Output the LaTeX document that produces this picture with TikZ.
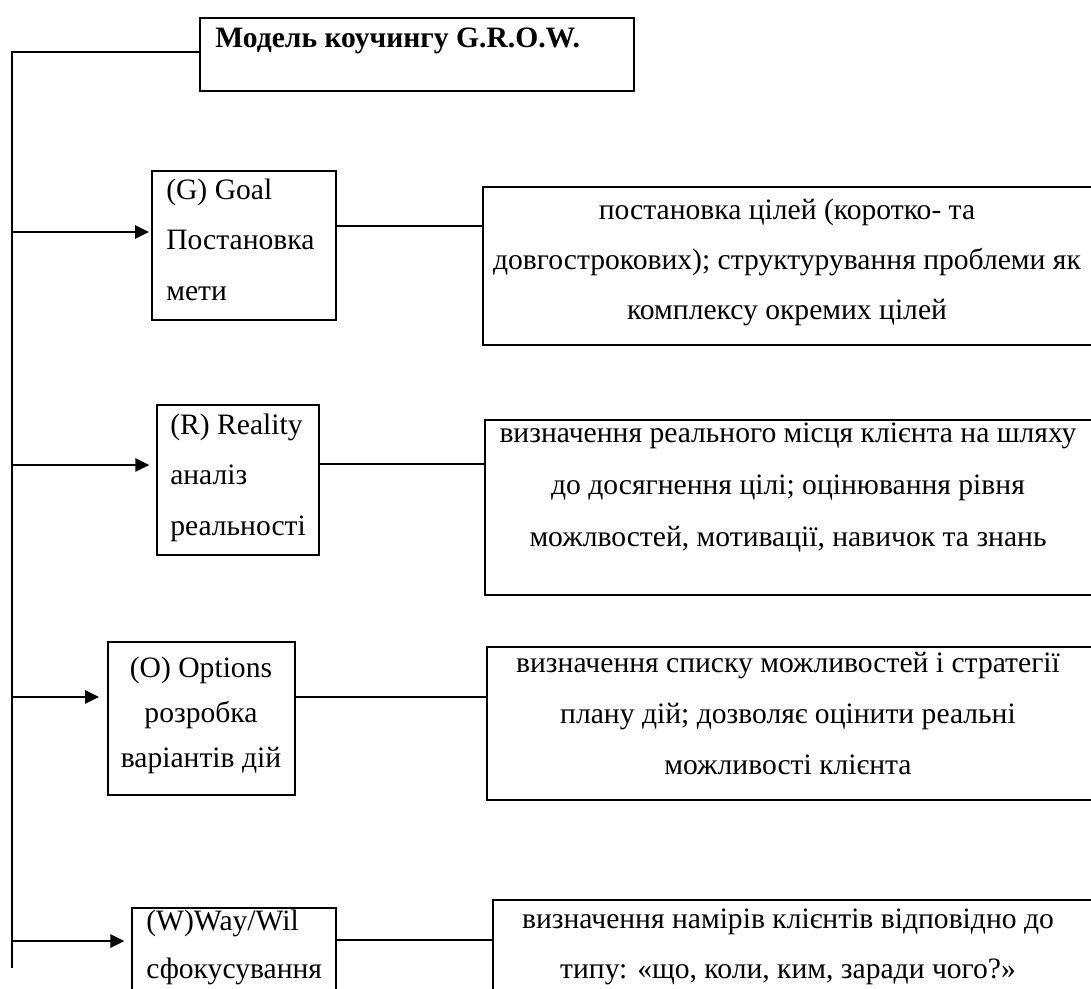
\documentclass[tikz,border=0pt]{standalone}
\usepackage{fontspec}
\setmainfont{Liberation Serif}
\usetikzlibrary{arrows.meta,fit}
\newcommand{\txtL}[1]{\begin{tabular}[t]{@{}l@{}}#1\end{tabular}}
\newcommand{\txtC}[1]{\begin{tabular}[t]{@{}c@{}}#1\end{tabular}}
\begin{document}
\begin{tikzpicture}[x=0.75pt,y=-0.75pt,
  box/.style={draw, line width=1.5pt, inner sep=0pt},
  txt/.style={anchor=base, inner sep=0pt, font=\fontsize{22.2}{38}\selectfont},
  txtw/.style={anchor=base west, inner sep=0pt, font=\fontsize{22.2}{38}\selectfont},
  ln/.style={line width=1.5pt},
  arr/.style={line width=1.5pt, -{Triangle[length=10.5pt,width=10pt]}}]
\useasboundingbox (0,0) rectangle (1091,988);
\clip (0,0) rectangle (1091,988);
% boxes
\node[box, fit={(200,18) (634,91)}] (title) {};
\node[box, fit={(152,171) (336,320)}] (g) {};
\node[box, fit={(483,187) (1100,345)}] (dg) {};
\node[box, fit={(157,405) (319,555)}] (r) {};
\node[box, fit={(485,420) (1100,595)}] (dr) {};
\node[box, fit={(108,642) (295,795)}] (o) {};
\node[box, fit={(487,647) (1100,800)}] (do) {};
\node[box, fit={(132,908) (336,1010)}] (w) {};
\node[box, fit={(493,900) (1100,1010)}] (dw) {};
% texts
\node[txtw, font=\fontsize{22.2}{38}\selectfont\bfseries] (tt) at (215,48) {Модель коучингу G.R.O.W.};
\node[txtw] (gt) at (166,199) {\txtL{(G) Goal\\Постановка\\мети}};
\node[txtw] (rt) at (170,434) {\txtL{(R) Reality\\аналіз\\реальності}};
\node[txt, font=\fontsize{22.2}{34}\selectfont] (ot) at (201,677) {\txtC{(O) Options\\розробка\\варіантів дій}};
\node[txtw, font=\fontsize{22.2}{36.5}\selectfont] (wt) at (146,930) {\txtL{(W)Way/Wil\\сфокусування}};
\node[txt, font=\fontsize{22.2}{37.5}\selectfont] (dgt) at (787,219) {\txtC{постановка цілей (коротко- та\\довгострокових); структурування проблеми як\\комплексу окремих цілей}};
\node[txt, font=\fontsize{22.2}{39}\selectfont] (drt) at (788,442) {\txtC{визначення реального місця клієнта на шляху\\до досягнення цілі; оцінювання рівня\\можлвостей, мотивації, навичок та знань}};
\node[txt, font=\fontsize{22.2}{38.5}\selectfont] (dot) at (788,672) {\txtC{визначення списку можливостей і стратегії\\плану дій; дозволяє оцінити реальні\\можливості клієнта}};
\node[txt, font=\fontsize{22.2}{37.5}\selectfont] (dwt) at (788,928) {\txtC{визначення намірів клієнтів відповідно до\\типу: «що, коли, ким, заради чого?»}};
% trunk
\coordinate (t0) at (12,52);
\coordinate (t5) at (12,968);
\coordinate (jg) at (12,232);
\coordinate (jr) at (12,465);
\coordinate (jo) at (12,697);
\coordinate (jw) at (12,941);
\draw[ln] (title.west |- t0) -- (t0) -- (t5);
\draw[arr] (jg) -- ([xshift=-1.5pt]g.west |- jg);
\draw[arr] (jr) -- ([xshift=-5pt]r.west |- jr);
\draw[arr] (jo) -- ([xshift=-6pt]o.west |- jo);
\draw[arr] (jw) -- ([xshift=-5pt]w.west |- jw);
% links
\coordinate (lg) at (0,226);
\coordinate (lr) at (0,464);
\coordinate (lo) at (0,697);
\coordinate (lw) at (0,940);
\draw[ln] (g.east |- lg) -- (dg.west |- lg);
\draw[ln] (r.east |- lr) -- (dr.west |- lr);
\draw[ln] (o.east |- lo) -- (do.west |- lo);
\draw[ln] (w.east |- lw) -- (dw.west |- lw);
\end{tikzpicture}
\end{document}
